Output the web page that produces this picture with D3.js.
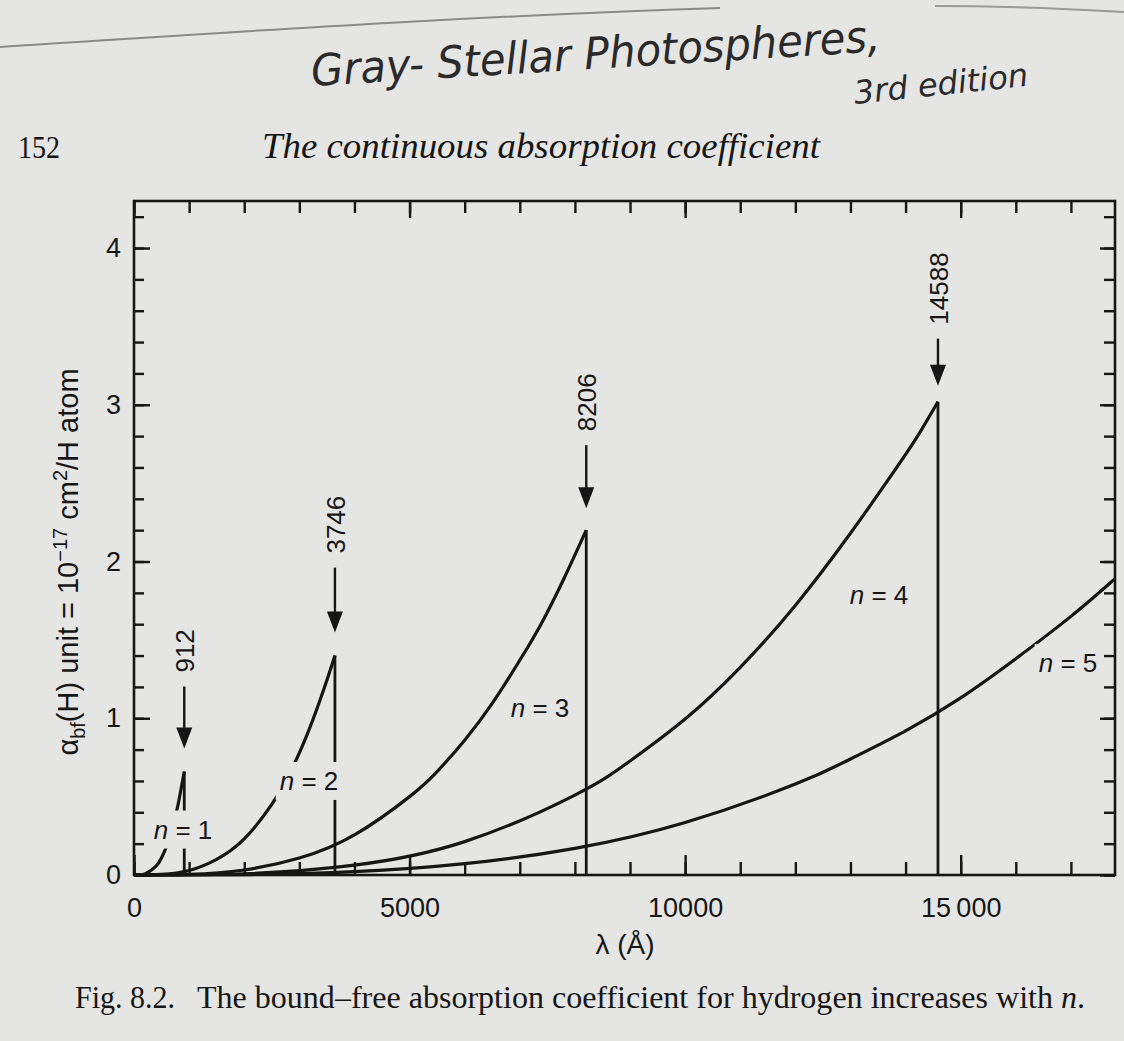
<!DOCTYPE html>
<html>
<head>
<meta charset="utf-8">
<title>Bound-free absorption coefficient of hydrogen</title>
<script src="https://cdn.jsdelivr.net/npm/d3@7/dist/d3.min.js"></script>
<style>
  body { margin: 0; background: #e5e5e3; }
  svg { display: block; }
</style>
</head>
<body>
<script>
// ---- data (lambda in Angstrom, alpha in 1e-17 cm^2/H atom)
var lambda1 = [0, 200, 400, 500, 600, 700, 800, 912];
var alpha1  = [0, 0.007, 0.056, 0.11, 0.19, 0.30, 0.45, 0.66];

var lambda2 = [0, 500, 1000, 1500, 2000, 2500, 2800, 3100, 3400, 3646];
var alpha2  = [0, 0.004, 0.029, 0.10, 0.23, 0.45, 0.63, 0.86, 1.14, 1.40];

var lambda3 = [0, 1000, 2000, 3000, 4000, 5000, 5500, 6000, 6500, 7000, 7400, 7800, 8206];
var alpha3  = [0, 0.004, 0.032, 0.108, 0.256, 0.50, 0.66, 0.86, 1.095, 1.37, 1.61, 1.89, 2.20];

var lambda4 = [0, 2000, 4000, 6000, 8000, 9000, 10000, 11000, 12000, 13000, 13800, 14200, 14588];
var alpha4  = [0, 0.008, 0.063, 0.213, 0.51, 0.727, 0.995, 1.325, 1.72, 2.18, 2.58, 2.79, 3.02];

var lambda5 = [0, 2000, 4000, 6000, 8000, 10000, 12000, 13000, 14000, 15000, 16000, 17000, 17800];
var alpha5  = [0, 0.003, 0.021, 0.072, 0.17, 0.335, 0.58, 0.74, 0.92, 1.13, 1.38, 1.65, 1.89];

var seriesN = ["1", "2", "3", "4", "5"];

// absorption edges and the numbers written above them
var edgeLambda = [912, 3646, 8206, 14588];
var edgeText   = ["912", "3746", "8206", "14588"];

var xMajorTicks = [0, 5000, 10000, 15000];
var xTickLabels = ["0", "5000", "10000", "15\u2009000"];
var yMajorTicks = [0, 1, 2, 3, 4];

// ---- layout
var width = 1124, height = 1041;
var plotLeft = 134, plotRight = 1115, plotTop = 201, plotBottom = 875;
var ink = "#161616", paper = "#e5e5e3";
var sans = "'Liberation Sans', Arial, sans-serif";
var serif = "'Liberation Serif', serif";

var x = d3.scaleLinear().domain([0, 17800]).range([plotLeft, plotRight]);
var y = d3.scaleLinear().domain([0, 4.3]).range([plotBottom, plotTop]);

var svg = d3.select("body").append("svg")
  .attr("width", width)
  .attr("height", height);

svg.append("rect").attr("width", width).attr("height", height).attr("fill", paper);

// pen line and handwriting at the top of the page
svg.append("path")
  .attr("d", "M0,47 C180,36 420,18 720,8")
  .attr("fill", "none").attr("stroke", "#8a8a8a").attr("stroke-width", 2);
svg.append("path")
  .attr("d", "M935,6 C1000,6 1070,9 1124,12")
  .attr("fill", "none").attr("stroke", "#9a9a9a").attr("stroke-width", 2);

svg.append("text")
  .attr("transform", "translate(312,86) rotate(-3.5)")
  .attr("font-family", "'DejaVu Sans', sans-serif")
  .attr("font-style", "italic")
  .attr("font-size", 44)
  .attr("fill", "#2a2a2a")
  .attr("textLength", 570)
  .attr("lengthAdjust", "spacingAndGlyphs")
  .text("Gray-  Stellar Photospheres,");

svg.append("text")
  .attr("transform", "translate(855,104) rotate(-6)")
  .attr("font-family", "'DejaVu Sans', sans-serif")
  .attr("font-style", "italic")
  .attr("font-size", 32)
  .attr("fill", "#2a2a2a")
  .attr("textLength", 175)
  .attr("lengthAdjust", "spacingAndGlyphs")
  .text("3rd edition");

// running head
svg.append("text")
  .attr("x", 18).attr("y", 158)
  .attr("font-family", serif)
  .attr("font-size", 31)
  .attr("fill", ink)
  .attr("textLength", 42)
  .attr("lengthAdjust", "spacingAndGlyphs")
  .text("152");

svg.append("text")
  .attr("x", 262).attr("y", 158)
  .attr("font-family", serif)
  .attr("font-style", "italic")
  .attr("font-size", 35)
  .attr("fill", ink)
  .attr("textLength", 558)
  .attr("lengthAdjust", "spacingAndGlyphs")
  .text("The continuous absorption coefficient");

// ---- axes (all ticks point inwards)
function styleAxis(g) {
  g.select(".domain").remove();
  g.selectAll("line").attr("stroke", ink).attr("stroke-width", 2.4);
  g.selectAll("text").attr("font-family", sans).attr("font-size", 27).attr("fill", ink);
}
function noLabels(g) { styleAxis(g); g.selectAll("text").remove(); }

var xMinor = d3.range(0, 18).map(function (i) { return i * 1000; });
var yMinor = d3.range(0, 22).map(function (i) { return i / 5; });

svg.append("g")
  .attr("transform", "translate(0," + plotBottom + ")")
  .call(d3.axisBottom(x).tickValues(xMinor).tickSizeInner(-13).tickSizeOuter(0))
  .call(noLabels);

svg.append("g")
  .attr("transform", "translate(0," + plotBottom + ")")
  .call(d3.axisBottom(x).tickValues(xMajorTicks)
    .tickFormat(function (d, i) { return xTickLabels[i]; })
    .tickSizeInner(-20).tickSizeOuter(0).tickPadding(23))
  .call(styleAxis);

svg.append("g")
  .attr("transform", "translate(0," + plotTop + ")")
  .call(d3.axisTop(x).tickValues(xMinor).tickSizeInner(-12).tickSizeOuter(0))
  .call(noLabels);

svg.append("g")
  .attr("transform", "translate(0," + plotTop + ")")
  .call(d3.axisTop(x).tickValues(xMajorTicks).tickSizeInner(-17).tickSizeOuter(0))
  .call(noLabels);

svg.append("g")
  .attr("transform", "translate(" + plotLeft + ",0)")
  .call(d3.axisLeft(y).tickValues(yMinor).tickSizeInner(-10).tickSizeOuter(0))
  .call(noLabels);

svg.append("g")
  .attr("transform", "translate(" + plotLeft + ",0)")
  .call(d3.axisLeft(y).tickValues(yMajorTicks).tickFormat(d3.format("d"))
    .tickSizeInner(-16).tickSizeOuter(0).tickPadding(13))
  .call(styleAxis);

svg.append("g")
  .attr("transform", "translate(" + plotRight + ",0)")
  .call(d3.axisRight(y).tickValues(yMinor).tickSizeInner(-11).tickSizeOuter(0))
  .call(noLabels);

svg.append("g")
  .attr("transform", "translate(" + plotRight + ",0)")
  .call(d3.axisRight(y).tickValues(yMajorTicks).tickSizeInner(-15).tickSizeOuter(0))
  .call(noLabels);

// frame
svg.append("rect")
  .attr("x", plotLeft).attr("y", plotTop)
  .attr("width", plotRight - plotLeft).attr("height", plotBottom - plotTop)
  .attr("fill", "none").attr("stroke", ink).attr("stroke-width", 2.6);

// axis titles
svg.append("text")
  .attr("x", 625).attr("y", 954)
  .attr("text-anchor", "middle")
  .attr("font-family", sans)
  .attr("font-size", 28)
  .attr("fill", ink)
  .text("\u03bb (\u00c5)");

var yTitle = svg.append("text")
  .attr("transform", "translate(78,562) rotate(-90)")
  .attr("text-anchor", "middle")
  .attr("font-family", sans)
  .attr("font-size", 29)
  .attr("fill", ink);
yTitle.append("tspan").text("\u03b1");
yTitle.append("tspan").attr("font-size", 20).attr("dy", 7).text("bf");
yTitle.append("tspan").attr("dy", -7).text("(H) unit = 10");
yTitle.append("tspan").attr("font-size", 20).attr("dy", -11).text("\u221217");
yTitle.append("tspan").attr("dy", 11).text(" cm");
yTitle.append("tspan").attr("font-size", 20).attr("dy", -11).text("2");
yTitle.append("tspan").attr("dy", 11).text("/H atom");

// ---- curves
var series = [
  { n: seriesN[0], lam: lambda1, a: alpha1 },
  { n: seriesN[1], lam: lambda2, a: alpha2 },
  { n: seriesN[2], lam: lambda3, a: alpha3 },
  { n: seriesN[3], lam: lambda4, a: alpha4 },
  { n: seriesN[4], lam: lambda5, a: alpha5 }
];

var line = d3.line()
  .x(function (d) { return x(d[0]); })
  .y(function (d) { return y(d[1]); })
  .curve(d3.curveNatural);

svg.append("g").selectAll("path").data(series).enter().append("path")
  .attr("d", function (s) { return line(d3.zip(s.lam, s.a)); })
  .attr("fill", "none")
  .attr("stroke", ink)
  .attr("stroke-width", 3.2);

// vertical drops at the edges
var edges = edgeLambda.map(function (l, i) {
  var s = series[i];
  return { lam: l, peak: s.a[s.a.length - 1], text: edgeText[i] };
});

svg.append("g").selectAll("line").data(edges).enter().append("line")
  .attr("x1", function (d) { return x(d.lam); })
  .attr("x2", function (d) { return x(d.lam); })
  .attr("y1", y(0))
  .attr("y2", function (d) { return y(d.peak); })
  .attr("stroke", ink)
  .attr("stroke-width", 2.8);

// arrows and edge wavelengths
var arrowGap = [23, 23, 22, 16];
var arrowLen = [62, 65, 63, 47];
var arrows = svg.append("g");
edges.forEach(function (d, i) {
  var cx = x(d.lam);
  var tip = y(d.peak) - arrowGap[i];
  var tail = tip - arrowLen[i];
  arrows.append("line")
    .attr("x1", cx).attr("x2", cx)
    .attr("y1", tail).attr("y2", tip - 12)
    .attr("stroke", ink).attr("stroke-width", 2.4);
  arrows.append("path")
    .attr("d", "M" + (cx - 8) + "," + (tip - 21) + "L" + (cx + 8) + "," + (tip - 21) + "L" + cx + "," + tip + "Z")
    .attr("fill", ink);
  arrows.append("text")
    .attr("transform", "translate(" + (cx + 1) + "," + (tail - 14) + ") rotate(-90)")
    .attr("dominant-baseline", "central")
    .attr("font-family", sans)
    .attr("font-size", 26)
    .attr("fill", ink)
    .text(d.text);
});

// n = ... labels, knocking out whatever runs under them
var labelAt = [[890, 0.29], [3175, 0.60], [7367, 1.065], [13518, 1.786], [16947, 1.352]];
var labels = svg.append("g");
series.forEach(function (s, i) {
  var g = labels.append("g");
  var t = g.append("text")
    .attr("x", x(labelAt[i][0]))
    .attr("y", y(labelAt[i][1]))
    .attr("text-anchor", "middle")
    .attr("dominant-baseline", "central")
    .attr("font-family", sans)
    .attr("font-size", 26)
    .attr("fill", ink);
  t.append("tspan").attr("font-style", "italic").text("n");
  t.append("tspan").text(" = " + s.n);
  var b = t.node().getBBox();
  g.insert("rect", "text")
    .attr("x", b.x - 4).attr("y", b.y - 4)
    .attr("width", b.width + 8).attr("height", b.height + 8)
    .attr("fill", paper);
});

// caption
svg.append("text")
  .attr("x", 75).attr("y", 1008)
  .attr("font-family", serif)
  .attr("font-size", 32)
  .attr("fill", ink)
  .attr("textLength", 100)
  .attr("lengthAdjust", "spacingAndGlyphs")
  .text("Fig. 8.2.");

var cap = svg.append("text")
  .attr("x", 197).attr("y", 1008)
  .attr("font-family", serif)
  .attr("font-size", 32)
  .attr("fill", ink)
  .attr("textLength", 888)
  .attr("lengthAdjust", "spacingAndGlyphs");
cap.append("tspan").text("The bound\u2013free absorption coefficient for hydrogen increases with ");
cap.append("tspan").attr("font-style", "italic").text("n");
cap.append("tspan").text(".");
</script>
</body>
</html>
